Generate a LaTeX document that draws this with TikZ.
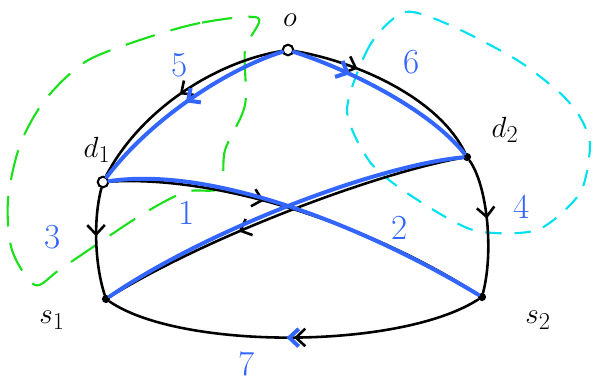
\documentclass[tikz,border=0pt]{standalone}
\usetikzlibrary{arrows.meta,decorations.markings}
\definecolor{hlblue}{RGB}{51,102,255}
\definecolor{zonegreen}{RGB}{25,225,25}
\definecolor{zonecyan}{RGB}{0,225,240}
\begin{document}
\begin{tikzpicture}[x=0.03cm,y=-0.03cm,>={Straight Barb[length=8pt,width=15pt]},
    every node/.style={font=\fontsize{30}{34}\selectfont},
    vtx/.style={circle,fill=black,inner sep=0pt,minimum size=7pt},
    ring/.style={circle,draw,line width=1.8pt,inner sep=0pt,minimum size=9pt},
    edge/.style={line width=2.2pt,line cap=round},
    hl/.style={line width=3.4pt,line cap=round,color=hlblue},
    num/.style={text=hlblue},
    midarrow/.style={postaction={decorate},decoration={markings,mark=at position #1 with {\arrow{>}}}}]
                \useasboundingbox (0,0) rectangle (594,383);

                % Zones around the two destinations
                \draw[zonegreen, line width=1.8pt, dash pattern=on 26pt off 14pt]
                    plot[smooth cycle, tension=0.5] coordinates {(258,18) (200,23) (140,40) (85,62) (45,100) (20,145) (8,200) (12,250) (35,285) (62,268) (138,217) (185,192) (220,188) (225,150) (245,105) (245,50)};
                \draw[zonecyan, line width=1.8pt, dash pattern=on 14pt off 11pt]
                    plot[smooth cycle, tension=0.45] coordinates {(405,12) (370,45) (347,110) (370,162) (410,195) (473,230) (537,230) (580,193) (590,145) (580,117) (560,93) (517,60) (452,26)};

                % Vertices
                \node[ring] (o) at (288,50) {};
                \node[ring] (d1) at (103,182) {};
                \node[vtx] (d2) at (467,157) {};
                \node[vtx] (s1) at (106,299) {};
                \node[vtx] (s2) at (482,297) {};

                % Vertex labels
                \node (o-lbl) at (290,20) {$o$};
                \node (d1-lbl) at (97,150) {$d_1$};
                \node (d2-lbl) at (505,130) {$d_2$};
                \node (s1-lbl) at (52,320) {$s_1$};
                \node (s2-lbl) at (538,320) {$s_2$};

                % Edges
                \draw[edge,midarrow=0.5] (o) .. controls (215,62) and (140,110) .. (d1);
                \draw[edge,midarrow=0.32] (o) .. controls (360,62) and (440,100) .. (d2);
                \draw[edge,midarrow=0.45] (d1) .. controls (93,220) and (95,265) .. (s1);
                \draw[edge,midarrow=0.45] (d2) .. controls (487,185) and (494,250) .. (s2);
                \draw[edge,midarrow=0.5] (s2) .. controls (400,350) and (180,350) .. (s1);
                \draw[edge,midarrow=0.4] (d1) .. controls (220,175) and (370,225) .. (s2);
                \draw[edge,midarrow=0.62] (d2) .. controls (380,172) and (210,235) .. (s1);

                % Highlighted paths
                \draw[hl,midarrow=0.5] (o) .. controls (225,70) and (150,120) .. (d1);
                \draw[hl,midarrow=0.3] (o) .. controls (350,70) and (430,110) .. (d2);
                \draw[hl] (d1) .. controls (220,165) and (380,235) .. (s2);
                \draw[hl] (d2) .. controls (380,165) and (210,228) .. (s1);
                \path[hl,midarrow=0.52] (s2) .. controls (400,350) and (180,350) .. (s1);

                % Path numbers
                \node[num] (n1) at (187,213) {1};
                \node[num] (n2) at (400,228) {2};
                \node[num] (n3) at (53,237) {3};
                \node[num] (n4) at (522,207) {4};
                \node[num] (n5) at (180,65) {5};
                \node[num] (n6) at (412,62) {6};
                \node[num] (n7) at (247,364) {7};
\end{tikzpicture}
\end{document}
